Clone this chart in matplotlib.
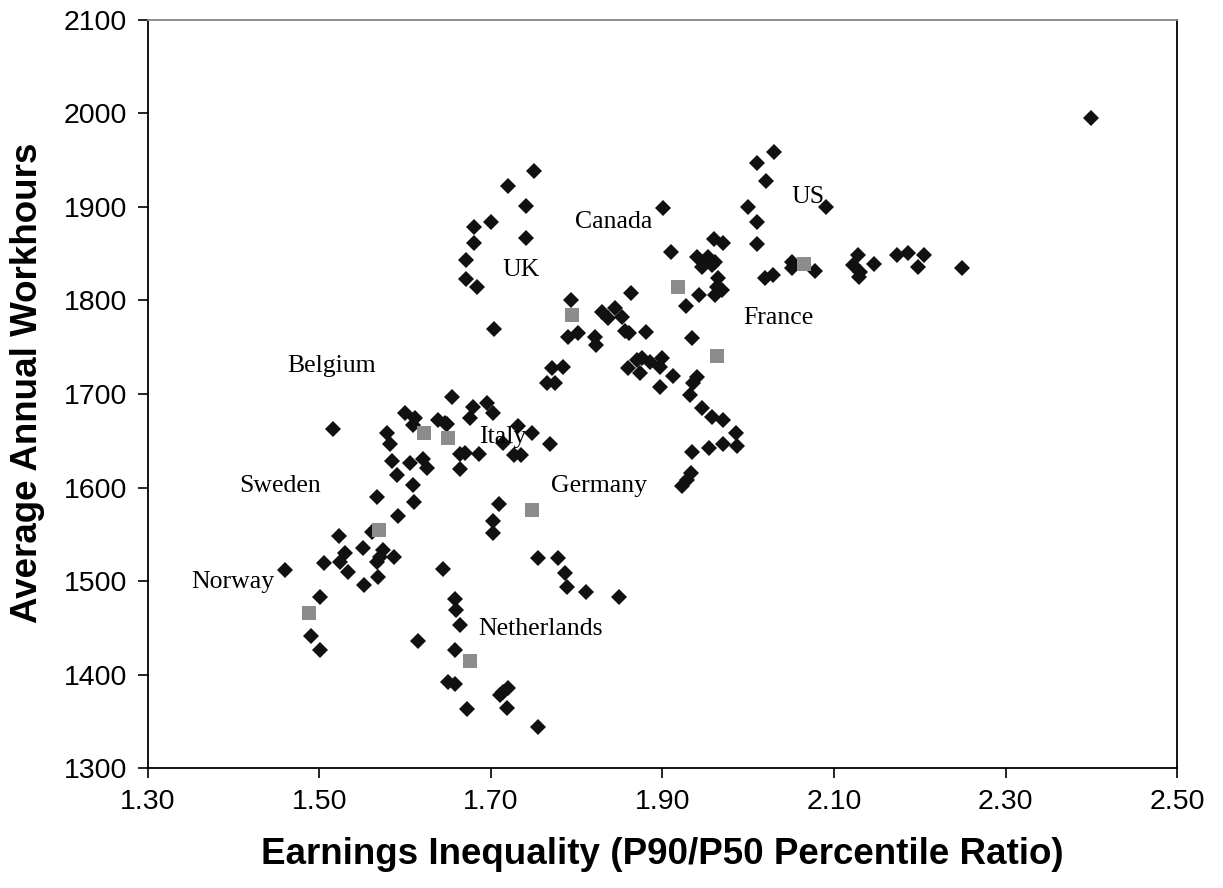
"""Earnings inequality vs. average annual workhours scatter."""

import matplotlib

matplotlib.use("Agg")
import matplotlib.pyplot as plt

# country-year observations (black diamonds)
ratio = [
    1.750, 1.720, 1.741, 1.700, 1.680, 1.680, 1.741, 1.671, 1.671, 1.684, 1.703,
    1.901, 2.030, 2.010, 2.021, 2.000, 2.010, 2.010, 2.091, 1.910, 1.960, 1.971,
    1.940, 1.947, 1.953, 1.961, 1.946, 1.958, 1.965, 1.964, 1.969, 1.961, 1.943,
    1.927, 2.020, 2.029, 2.051, 2.051, 2.078,
    2.128, 2.122, 2.130, 2.129, 2.147, 2.173, 2.186, 2.205, 2.198, 2.249, 2.400,
    1.863, 1.793, 1.829, 1.836, 1.845, 1.853, 1.790, 1.801, 1.821, 1.822, 1.856,
    1.861, 1.881, 1.934, 1.771, 1.784, 1.765, 1.775, 1.860, 1.870, 1.876, 1.885,
    1.874, 1.899, 1.897, 1.912, 1.897, 1.940, 1.936, 1.932, 1.946, 1.958, 1.971,
    1.986, 1.987, 1.971, 1.954, 1.934, 1.933, 1.929, 1.923,
    1.655, 1.679, 1.695, 1.702, 1.675, 1.646, 1.731, 1.748, 1.714, 1.769, 1.664,
    1.670, 1.686, 1.727, 1.735, 1.664, 1.709, 1.702, 1.702,
    1.516, 1.579, 1.582, 1.600, 1.611, 1.609, 1.638, 1.649, 1.585, 1.606, 1.621,
    1.625, 1.590, 1.609, 1.567, 1.610, 1.592, 1.561, 1.523, 1.551, 1.574, 1.571,
    1.567, 1.587, 1.530, 1.524, 1.505, 1.533, 1.552, 1.568, 1.460, 1.501, 1.490,
    1.501, 1.644, 1.755, 1.778, 1.786, 1.789, 1.811, 1.849, 1.658, 1.659, 1.664,
    1.615, 1.658, 1.650, 1.658, 1.714, 1.720, 1.710, 1.672, 1.719, 1.755,
]
hours = [
    1939, 1922, 1901, 1884, 1879, 1862, 1867, 1843, 1823, 1814, 1769,
    1899, 1959, 1947, 1928, 1900, 1884, 1860, 1900, 1852, 1866, 1861,
    1846, 1841, 1846, 1841, 1836, 1838, 1824, 1814, 1811, 1806, 1806,
    1794, 1824, 1827, 1841, 1835, 1832,
    1849, 1838, 1831, 1825, 1839, 1849, 1851, 1849, 1836, 1835, 1995,
    1808, 1800, 1788, 1781, 1792, 1782, 1761, 1765, 1761, 1752, 1767,
    1765, 1766, 1760, 1728, 1729, 1712, 1712, 1728, 1736, 1739, 1734,
    1722, 1739, 1729, 1719, 1708, 1718, 1712, 1699, 1685, 1675, 1672,
    1658, 1644, 1646, 1642, 1638, 1615, 1608, 1602,
    1697, 1686, 1690, 1680, 1674, 1669, 1666, 1658, 1648, 1646, 1636,
    1637, 1636, 1635, 1635, 1620, 1582, 1564, 1551,
    1663, 1658, 1646, 1680, 1674, 1667, 1672, 1668, 1628, 1626, 1631,
    1621, 1613, 1603, 1590, 1585, 1570, 1552, 1548, 1535, 1533, 1526,
    1520, 1526, 1530, 1520, 1519, 1510, 1496, 1504, 1512, 1483, 1441,
    1426, 1513, 1525, 1525, 1509, 1494, 1488, 1483, 1481, 1469, 1453,
    1436, 1426, 1392, 1390, 1381, 1386, 1378, 1363, 1364, 1344,
]

# country averages (grey squares)
avg_ratio = [1.794, 1.918, 2.065, 1.964, 1.622, 1.650, 1.748, 1.569, 1.488, 1.675]
avg_hours = [1784, 1814, 1839, 1741, 1658, 1653, 1576, 1555, 1466, 1414]

countries = ["UK", "Canada", "US", "France", "Belgium", "Italy",
             "Sweden", "Germany", "Norway", "Netherlands"]
label_x = [1.713, 1.798, 2.050, 1.994, 1.462, 1.686, 1.406, 1.770, 1.350, 1.685]
label_y = [1833, 1884, 1911, 1781, 1730, 1654, 1602, 1602, 1499, 1449]

x_ticks = [1.30, 1.50, 1.70, 1.90, 2.10, 2.30, 2.50]
y_ticks = [1300, 1400, 1500, 1600, 1700, 1800, 1900, 2000, 2100]


def main() -> None:
    plt.rcParams["font.family"] = ["Liberation Sans", "DejaVu Sans"]
    fig = plt.figure(figsize=(12.23, 8.88), dpi=100)
    ax = fig.add_axes([0.121, 0.1351, 0.8414, 0.8424])

    ax.plot(ratio, hours, linestyle="none", marker="D", markersize=8.2,
            color="#111111", markeredgewidth=0, zorder=3)
    ax.plot(avg_ratio, avg_hours, linestyle="none", marker="s", markersize=10.5,
            color="#8c8c8c", markeredgewidth=0, zorder=4)

    for name, lx, ly in zip(countries, label_x, label_y):
        ax.text(lx, ly, name, family=["Liberation Serif", "DejaVu Serif"],
                fontsize=18.5, ha="left", va="center", color="black", zorder=5)

    ax.set_xlim(1.30, 2.50)
    ax.set_ylim(1300, 2100)
    ax.set_xticks(x_ticks)
    ax.set_xticklabels([f"{t:.2f}" for t in x_ticks])
    ax.set_yticks(y_ticks)
    ax.tick_params(direction="out", length=7, width=1.2, labelsize=20.5, pad=8)

    for side in ("left", "right", "bottom"):
        ax.spines[side].set_linewidth(1.3)
        ax.spines[side].set_color("black")
    ax.spines["top"].set_color("#888888")
    ax.spines["top"].set_linewidth(1.3)

    ax.set_xlabel("Earnings Inequality (P90/P50 Percentile Ratio)",
                  fontsize=26.5, fontweight="bold", labelpad=16)
    ax.set_ylabel("Average Annual Workhours", fontsize=26.5, fontweight="bold")
    ax.yaxis.set_label_coords(-0.100, 0.515)

    fig.savefig("out.png", dpi=100)
    plt.close(fig)


if __name__ == "__main__":
    main()
